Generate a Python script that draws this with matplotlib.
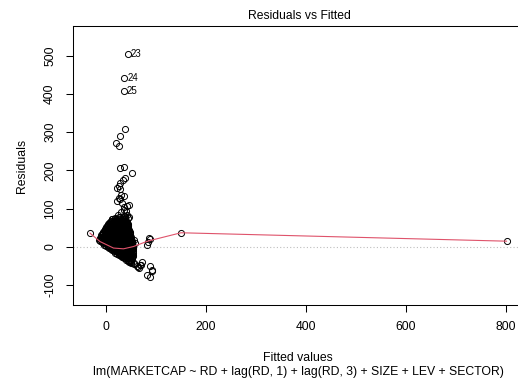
import matplotlib
matplotlib.use("Agg")
import matplotlib.pyplot as plt

plt.rcParams['font.family'] = ['Liberation Sans', 'DejaVu Sans']
plt.rcParams['axes.unicode_minus'] = False

# scattered residuals (fitted, residual)
scat_fit = [-32, 38, 28, 20, 26, 27, 36, 51, 38, 33, 28, 25, 21, 27,
            30, 35, 25, 28, 21, 31, 41, 36, 45, 35, 29, 40,
            23, 28, 38, 43, 41, 35, 25, 18, 11, 31, 45, 38, 11,
            48, 55, 58, 87, 83, 81, 85, 45, 51,
            51, 55, 61, 68, 71, 65, 50, 56, 63, 70,
            88, 91, 81, 87, 92, 150, 801]
scat_res = [36, 309, 289, 273, 264, 206, 208, 193, 180, 175, 167, 160, 155, 152,
            136, 133, 129, 126, 121, 116, 107, 104, 110, 97, 92, 95,
            84, 79, 81, 75, 84, 80, 78, 75, 73, 70, 78, 76, 69,
            14, 18, 10, 21, 13, 5, 23, 23, 11,
            -30, -43, -49, -47, -40, -54, -38, -45, -52, -47,
            -51, -60, -73, -78, -62, 37, 15]

# the dense cloud, one row per residual level
blob_rows = [
    (72, [12, 17, 22, 27, 32, 37]),
    (69, [10, 15, 20, 25, 30, 35, 40]),
    (66, [8, 13, 18, 23, 28, 33, 38, 42]),
    (63, [6, 11, 16, 21, 26, 31, 36, 41]),
    (60, [4, 9, 14, 19, 24, 29, 34, 39, 44]),
    (57, [3, 8, 13, 18, 23, 28, 33, 38, 43]),
    (54, [1, 6, 11, 16, 21, 26, 31, 36, 41, 44]),
    (51, [0, 5, 10, 15, 20, 25, 30, 35, 40, 44]),
    (48, [-2, 3, 8, 13, 18, 23, 28, 33, 38, 43]),
    (45, [-3, 2, 7, 12, 17, 22, 27, 32, 37, 42, 46]),
    (42, [-4, 1, 6, 11, 16, 21, 26, 31, 36, 41, 46]),
    (39, [-6, -1, 4, 9, 14, 19, 24, 29, 34, 39, 44, 47]),
    (36, [-7, -2, 3, 8, 13, 18, 23, 28, 33, 38, 43, 47]),
    (33, [-8, -3, 2, 7, 12, 17, 22, 27, 32, 37, 42, 47]),
    (30, [-10, -5, 0, 5, 10, 15, 20, 25, 30, 35, 40, 45, 48]),
    (27, [-11, -6, -1, 4, 9, 14, 19, 24, 29, 34, 39, 44, 49]),
    (24, [-12, -7, -2, 3, 8, 13, 18, 23, 28, 33, 38, 43, 48]),
    (21, [-13, -8, -3, 2, 7, 12, 17, 22, 27, 32, 37, 42, 47, 50]),
    (18, [-15, -10, -5, 0, 5, 10, 15, 20, 25, 30, 35, 40, 45, 50]),
    (15, [-12, -7, -2, 3, 8, 13, 18, 23, 28, 33, 38, 43, 48, 51]),
    (12, [-9, -4, 1, 6, 11, 16, 21, 26, 31, 36, 41, 46, 51]),
    (9, [-6, -1, 4, 9, 14, 19, 24, 29, 34, 39, 44, 49, 52]),
    (6, [-4, 1, 6, 11, 16, 21, 26, 31, 36, 41, 46, 52]),
    (3, [0, 5, 10, 15, 20, 25, 30, 35, 40, 45, 50, 53]),
    (0, [3, 8, 13, 18, 23, 28, 33, 38, 43, 48, 53]),
    (-3, [6, 11, 16, 21, 26, 31, 36, 41, 46, 51, 54]),
    (-6, [9, 14, 19, 24, 29, 34, 39, 44, 49, 54]),
    (-9, [12, 17, 22, 27, 32, 37, 42, 47, 52]),
    (-12, [15, 20, 25, 30, 35, 40, 45, 50, 54]),
    (-15, [18, 23, 28, 33, 38, 43, 48, 53]),
    (-18, [22, 27, 32, 37, 42, 47, 52]),
    (-21, [25, 30, 35, 40, 45, 50, 54]),
    (-24, [29, 34, 39, 44, 49, 53]),
    (-27, [32, 37, 42, 47, 52]),
    (-30, [36, 41, 46, 51]),
    (-33, [39, 44, 49]),
    (-36, [43, 48]),
    (-39, [46, 50]),
    (-42, [49]),
]

# labelled outliers
out_fit = [43, 36, 35]
out_res = [505, 443, 407]
out_lab = ['23', '24', '25']

# smoother
smooth_x = [-32, -12, 15, 35, 55, 81, 92, 150, 801]
smooth_y = [36, 14, -3, -5, 1, 14, 18, 37, 15]

xticks = [0, 200, 400, 600, 800]
yticks = [-100, 0, 100, 200, 300, 400, 500]

W, H = 518, 382
fig = plt.figure(figsize=(W / 100, H / 100), dpi=100)
# right side of the box falls outside the picture, as in the original
ax = fig.add_axes([73 / W, 1 - 305 / H, (525 - 73) / W, (305 - 26) / H])

blob_fit = []
blob_res = []
for r, fits in blob_rows:
    for f in fits:
        blob_fit.append(f)
        blob_res.append(r)

ax.axhline(0, color='#BEBEBE', ls=(0, (1, 2)), lw=0.8, zorder=1)
mk = dict(ls='none', marker='o', ms=4.4, mfc='none', mec='black', mew=0.7, zorder=2)
ax.plot(blob_fit, blob_res, **mk)
ax.plot(scat_fit, scat_res, **mk)
ax.plot(out_fit, out_res, **mk)
ax.plot(smooth_x, smooth_y, color='#DF536B', lw=0.8, zorder=3)

for x, y, s in zip(out_fit, out_res, out_lab):
    ax.annotate(s, (x, y), xytext=(2.5, 0), textcoords='offset points',
                fontsize=7, va='center', ha='left')

ax.set_xlim(-66, 838)
ax.set_ylim(-152, 578)
ax.set_xticks(xticks)
ax.set_yticks(yticks)
ax.tick_params(length=5, width=0.75, labelsize=8.7, direction='out')
ax.tick_params(axis='x', pad=6.5)
ax.tick_params(axis='y', pad=7.2)
for lbl in ax.get_yticklabels():
    lbl.set_rotation(90)
    lbl.set_va('center')
for sp in ax.spines.values():
    sp.set_linewidth(0.75)

fig.text(299 / W, 1 - 15.7 / H, 'Residuals vs Fitted', ha='center', va='center', fontsize=8.7)
fig.text(298 / W, 1 - 357.7 / H, 'Fitted values', ha='center', va='center', fontsize=8.8)
fig.text(298 / W, 1 - 371.7 / H, 'lm(MARKETCAP ~ RD + lag(RD, 1) + lag(RD, 3) + SIZE + LEV + SECTOR)',
         ha='center', va='center', fontsize=8.8)
fig.text(21.7 / W, 1 - 165.5 / H, 'Residuals', ha='center', va='center', rotation=90, fontsize=8.8)

fig.savefig('out.png', dpi=100)
